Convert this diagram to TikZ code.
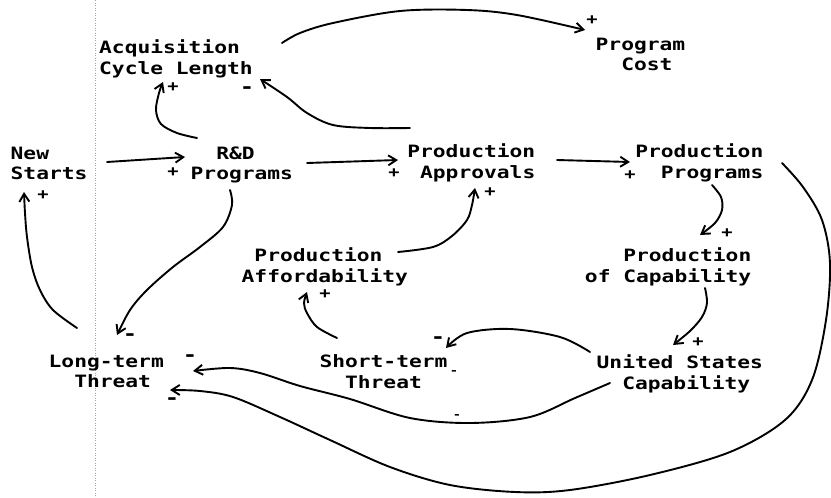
\documentclass[tikz,border=0pt]{standalone}
\usepackage{fontspec}
\newfontfamily\dmfont[FakeStretch=1.25]{DejaVu Sans Mono}
\usetikzlibrary{arrows.meta,calc}
\begin{document}
\begin{tikzpicture}[x=1pt,y=-1pt,
  lbl/.style={inner sep=0pt, font=\dmfont\bfseries\fontsize{17}{20.5}\selectfont},
  sgn/.style={inner sep=0pt, font=\dmfont\bfseries\fontsize{15}{15}\selectfont},
  msgn/.style={inner sep=0pt, font=\dmfont\bfseries\fontsize{19}{19}\selectfont},
  tiny/.style={inner sep=0pt, font=\dmfont\bfseries\fontsize{11}{11}\selectfont},
  lnk/.style={line width=1.9pt, -{Straight Barb[length=8pt,width=10pt]}, line cap=round, line join=round},
]
\useasboundingbox (0,0) rectangle (831,498);
\draw[black!35, line width=0.5pt, dotted] (95,0) -- (95,498);

% nodes
\node[lbl, anchor=north west, align=left] (acl) at (99,39.5) {Acquisition\\Cycle Length};
\node[lbl, anchor=north west, align=left] (pc) at (595.5,37.5) {Program\\\phantom{Co}Cost};
\node[lbl, anchor=north west, align=left] (ns) at (10.5,146.5) {New\\Starts};
\node[lbl, anchor=north west, align=left] (rd) at (190.5,146.5) {\phantom{Pr}R\&D\\Programs};
\node[lbl, anchor=north east, align=right] (pa) at (535.5,143.5) {Production\\Approvals};
\node[lbl, anchor=north east, align=right] (pp) at (763.5,143.5) {Production\\Programs};
\node[lbl, anchor=north west, align=left] (paf) at (241.5,247.5) {\phantom{A}Production\\Affordability};
\node[lbl, anchor=north east, align=right] (poc) at (751.5,247.5) {Production\\of Capability};
\node[lbl, anchor=north west, align=left] (lt) at (48.5,354.5) {Long-term\\\phantom{Lo}Threat};
\node[lbl, anchor=north, align=center] (st) at (383.5,354.5) {Short-term\\Threat};
\node[lbl, anchor=north west, align=left] (usc) at (596.5,354.5) {United States\\\phantom{Un}Capability};

% end points
\coordinate (a0) at ($(ns.north west)+(96.5,15.5)$);
\coordinate (a1) at ($(rd.north west)+(-5.5,10.5)$);
\coordinate (b0) at ($(rd.north west)+(116.5,16.5)$);
\coordinate (b1) at ($(pa.north east)+(-137.5,16.5)$);
\coordinate (c0) at ($(pa.north east)+(21.5,16.5)$);
\coordinate (c1) at ($(pp.north east)+(-133.5,18.5)$);
\coordinate (d0) at ($(rd.north west)+(6.5,-8.5)$);
\coordinate (d1) at ($(acl.north west)+(64,42.5)$);
\coordinate (e0) at ($(pa.north east)+(-125.5,-15.5)$);
\coordinate (e1) at ($(acl.north west)+(161,39.5)$);
\coordinate (f0) at ($(acl.north west)+(183,3.5)$);
\coordinate (f1) at ($(pc.north west)+(-10.5,-7.5)$);
\coordinate (g0) at ($(pp.north east)+(-51.5,41.5)$);
\coordinate (g1) at ($(poc.north east)+(-51.5,-12.5)$);
\coordinate (h0) at ($(poc.north east)+(-46.5,40.5)$);
\coordinate (h1) at ($(usc.north west)+(76.5,-9.5)$);
\coordinate (i0) at ($(usc.north west)+(-6.5,-2.5)$);
\coordinate (i1) at ($(st.north)+(62.5,-6.5)$);
\coordinate (j0) at ($(st.north)+(-46.5,-16.5)$);
\coordinate (j1) at ($(paf.north west)+(65.5,44.5)$);
\coordinate (k0) at ($(paf.north west)+(156.5,4.5)$);
\coordinate (k1) at ($(pa.north east)+(-60.5,44.5)$);
\coordinate (l0) at ($(lt.north west)+(28.5,-26.5)$);
\coordinate (l1) at ($(ns.north west)+(13.5,45.5)$);
\coordinate (m0) at ($(rd.north west)+(39.5,43.5)$);
\coordinate (m1) at ($(lt.north west)+(68.5,-19.5)$);
\coordinate (n0) at ($(usc.north west)+(13.5,28.5)$);
\coordinate (n1) at ($(lt.north west)+(144.5,16.5)$);
\coordinate (o0) at ($(pp.north east)+(18.5,19.5)$);
\coordinate (o1) at ($(lt.north west)+(121.5,35.5)$);

% connectors
\draw[lnk] (a0) -- (a1);
\draw[lnk] (b0) -- (b1);
\draw[lnk] (c0) -- (c1);
\draw[lnk] plot[smooth, tension=0.55] coordinates {(d0) (177,133) (161,124) (156,110) (159,93) (d1)};
\draw[lnk] plot[smooth, tension=0.55] coordinates {(e0) (370,128) (333,125) (307,113) (287,97) (e1)};
\draw[lnk] plot[smooth, tension=0.55] coordinates {(f0) (300,33) (333,23) (400,11) (467,10) (517,15) (f1)};
\draw[lnk] plot[smooth, tension=0.55] coordinates {(g0) (721,197) (722,210) (715,223) (g1)};
\draw[lnk] plot[smooth, tension=0.55] coordinates {(h0) (707,303) (702,317) (690,331) (h1)};
\draw[lnk] plot[smooth, tension=0.55] coordinates {(i0) (560,337) (510,329) (467,333) (i1)};
\draw[lnk] plot[smooth, tension=0.55] coordinates {(j0) (317,327) (307,313) (304,303) (j1)};
\draw[lnk] plot[smooth, tension=0.55] coordinates {(k0) (433,247) (452,236) (467,220) (472,205) (k1)};
\draw[lnk] plot[smooth, tension=0.55] coordinates {(l0) (53,310) (40,290) (32,267) (27,237) (25,213) (l1)};
\draw[lnk] plot[smooth, tension=0.55] coordinates {(m0) (232,205) (223,227) (200,247) (173,267) (147,290) (130,310) (m1)};
\draw[lnk] plot[smooth, tension=0.55] coordinates {(n0) (575,398) (530,417) (470,423) (410,418) (350,399) (300,386) (260,373) (230,368) (n1)};
\draw[lnk] plot[smooth, tension=0.55] coordinates {(o0) (803,187) (822,220) (830,263) (826,320) (812,380) (785,420) (730,452) (650,475) (570,490) (515,492) (450,485) (390,467) (330,440) (280,417) (233,397) (200,391) (o1)};

% signs
\node[sgn] (sA) at ($(rd.north west)+(-17.5,25.5)$) {+};
\node[sgn] (sB) at ($(pa.north east)+(-141.5,29.5)$) {+};
\node[sgn] (sC) at ($(pp.north east)+(-133.5,31.5)$) {+};
\node[sgn] (sD) at ($(acl.north west)+(74,47.5)$) {+};
\node[msgn] (sE) at ($(acl.north west)+(148,50.5)$) {-};
\node[sgn] (sF) at ($(pc.north west)+(-3.5,-17.5)$) {+};
\node[sgn] (sG) at ($(poc.north east)+(-24.5,-14.5)$) {+};
\node[sgn] (sH) at ($(usc.north west)+(101.5,-12.5)$) {+};
\node[msgn] (sI) at ($(st.north)+(54.5,-14.5)$) {-};
\node[sgn] (sJ) at ($(paf.north west)+(83.5,46.5)$) {+};
\node[sgn] (sK) at ($(pa.north east)+(-45.5,48.5)$) {+};
\node[sgn] (sL) at ($(ns.north west)+(32.5,48.5)$) {+};
\node[msgn] (sM) at ($(lt.north west)+(81.5,-17.5)$) {-};
\node[msgn] (sN) at ($(lt.north west)+(141.5,3.5)$) {-};
\node[msgn] (sO) at ($(lt.north west)+(123.5,46.5)$) {-};
\node[tiny] (sN2) at ($(st.north)+(73.5,62.5)$) {-};
\node[tiny] (sX) at ($(st.north)+(70.5,18.5)$) {-};
\end{tikzpicture}
\end{document}
